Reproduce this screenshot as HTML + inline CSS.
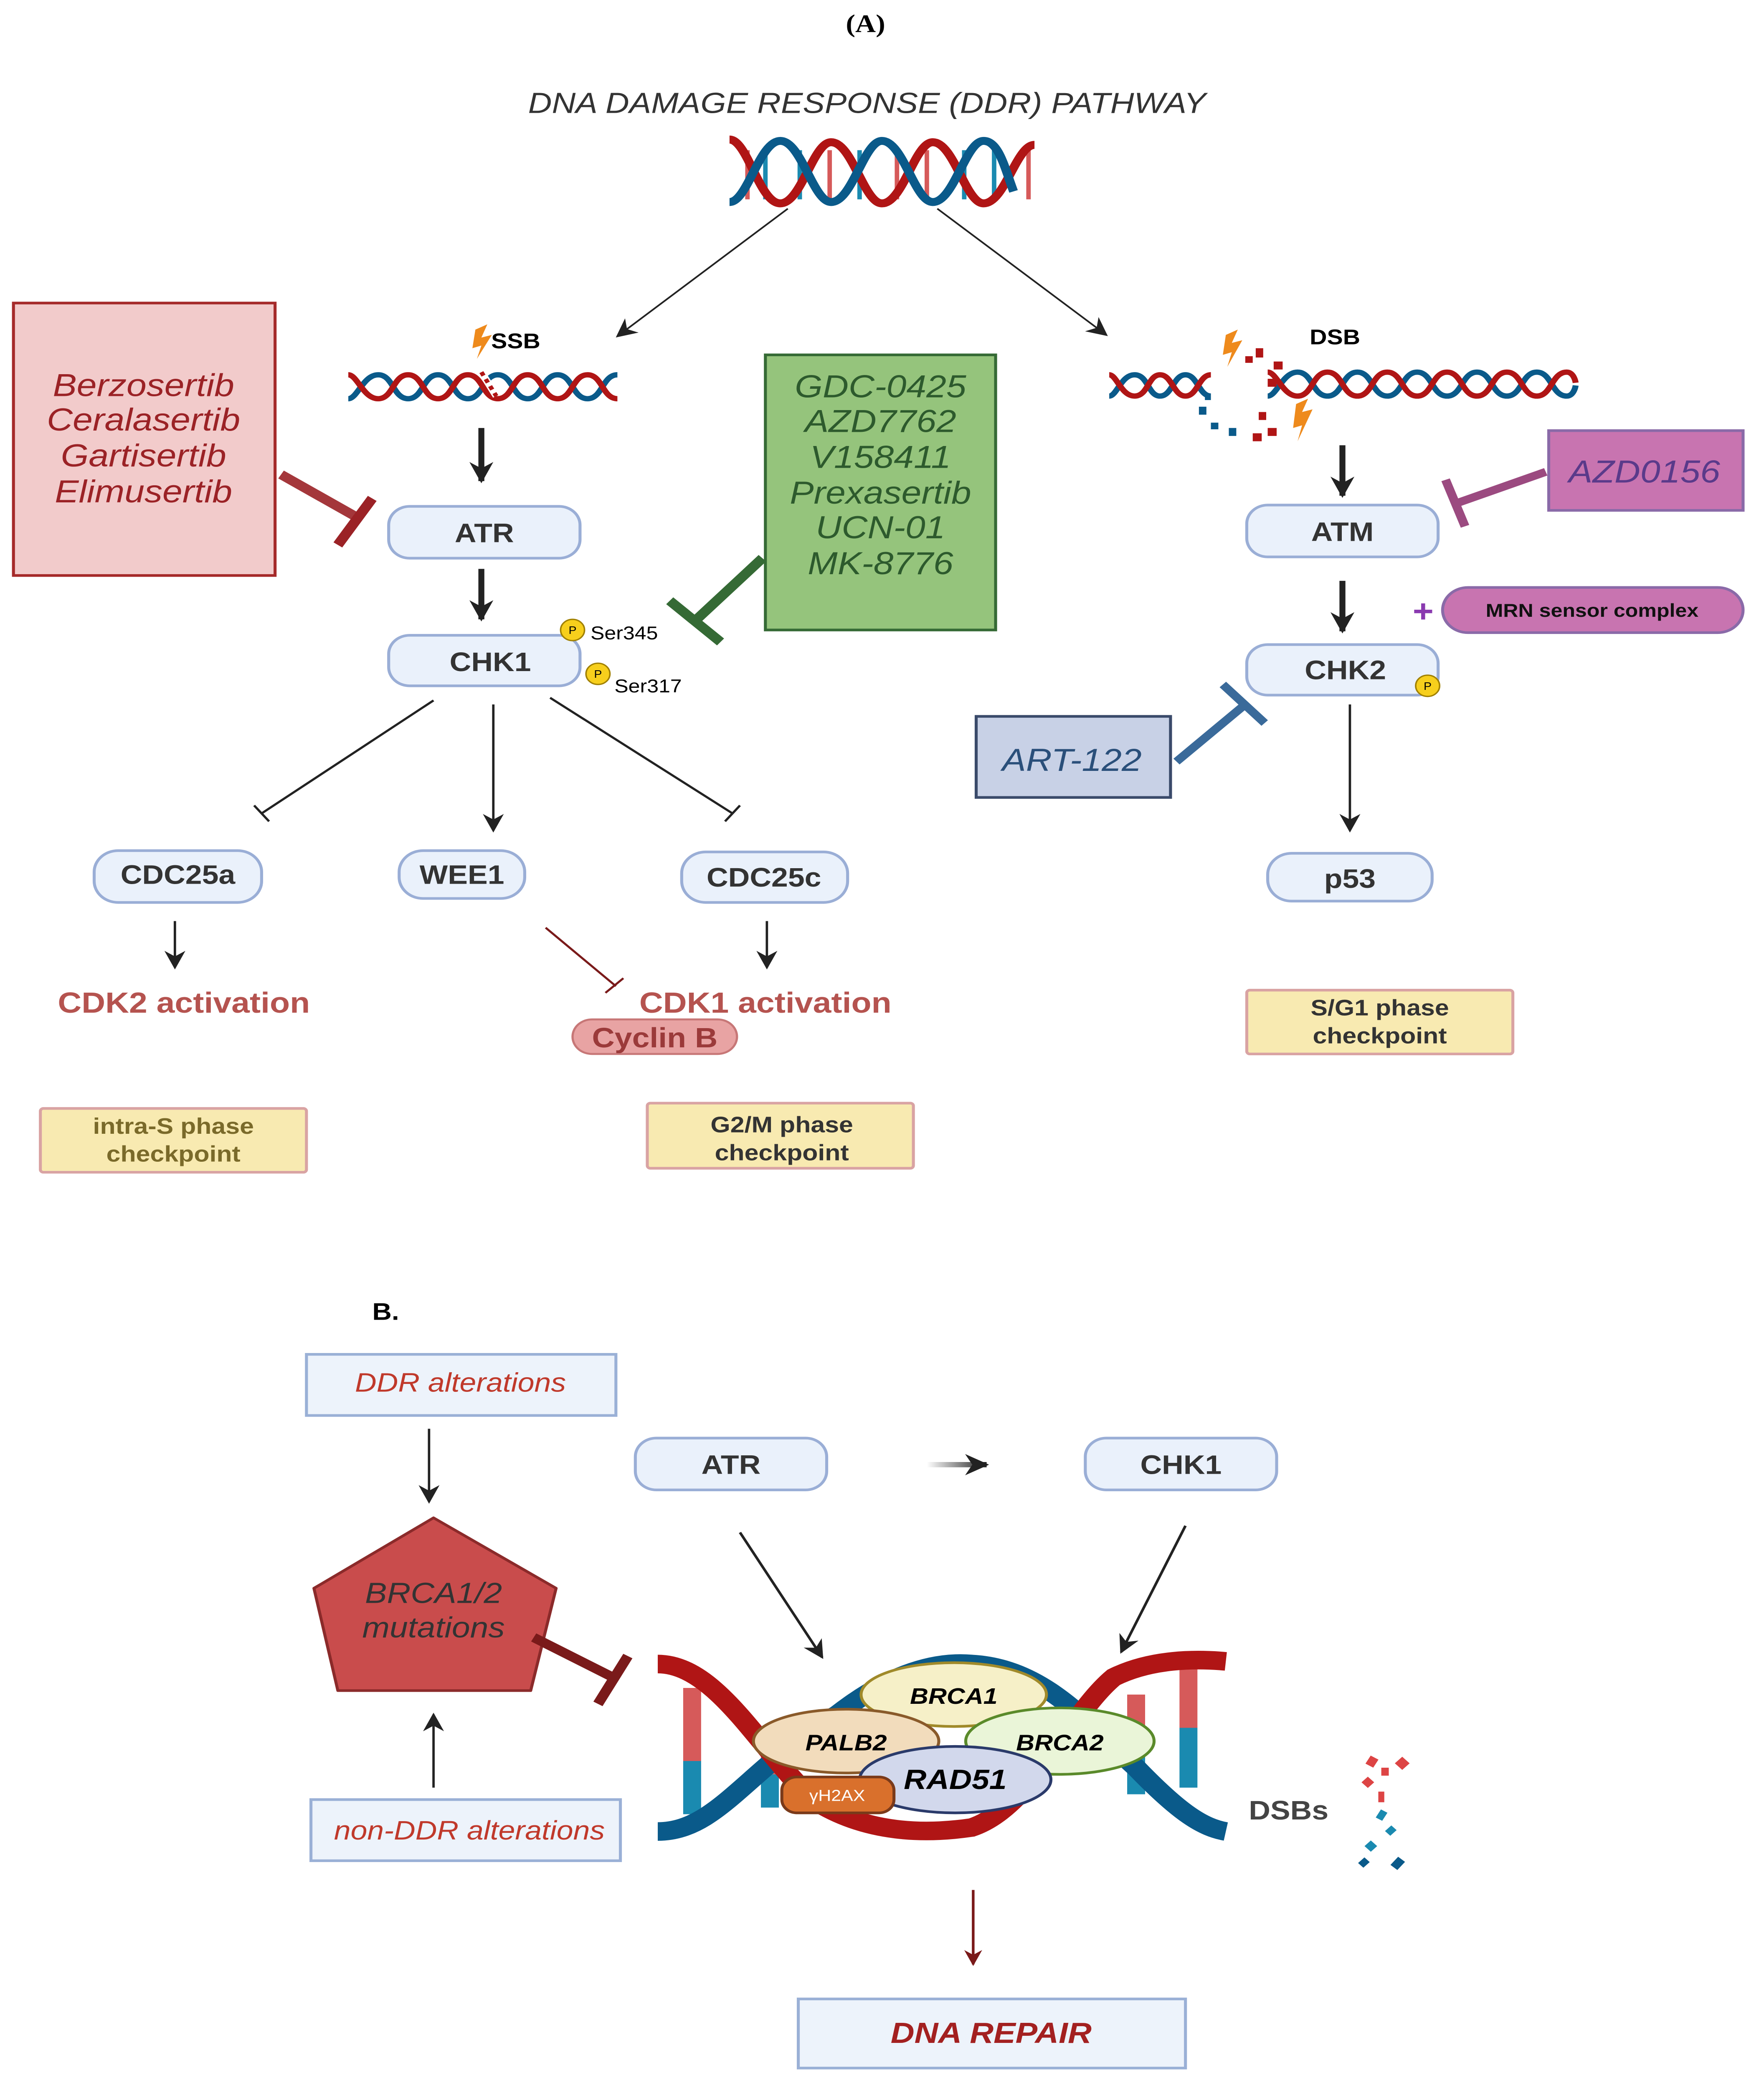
<!DOCTYPE html>
<html><head><meta charset="utf-8"><style>
html,body{margin:0;padding:0;background:#fff;overflow:hidden;width:100vw;height:100vh}
svg{display:block;width:100vw;height:100vh}
text{font-family:"Liberation Sans",sans-serif}
</style></head><body>
<svg viewBox="0 0 1180 1571" preserveAspectRatio="none" xmlns="http://www.w3.org/2000/svg">
<defs>
<marker id="ahs" viewBox="0 0 10 10" refX="9" refY="5" markerWidth="14" markerHeight="14" orient="auto" markerUnits="userSpaceOnUse"><path d="M0,0 L10,5 L0,10 L3,5z" fill="#222"/></marker>
<marker id="ahr" viewBox="0 0 10 10" refX="9" refY="5" markerWidth="12" markerHeight="12" orient="auto" markerUnits="userSpaceOnUse"><path d="M0,0 L10,5 L0,10 L3,5z" fill="#7a1a1a"/></marker>
<marker id="ahb" viewBox="0 0 10 10" refX="9" refY="5" markerWidth="4" markerHeight="4" orient="auto"><path d="M0,0 L10,5 L0,10 L3,5z" fill="#222"/></marker>
<linearGradient id="gh" gradientUnits="userSpaceOnUse" x1="620" y1="0" x2="660" y2="0"><stop offset="0" stop-color="#fff"/><stop offset="1" stop-color="#222"/></linearGradient>
</defs>

<text x="579" y="24" font-weight="bold" font-size="19" text-anchor="middle" style="font-family:'Liberation Serif',serif">(A)</text>
<text x="580" y="85" font-size="22" font-style="italic" fill="#333" text-anchor="middle">DNA DAMAGE RESPONSE (DDR) PATHWAY</text>

<!-- top DNA -->
<g stroke-width="3">
<line x1="500" y1="113" x2="500" y2="150" stroke="#d65a5a"/><line x1="512" y1="113" x2="512" y2="150" stroke="#1a8ab0"/>
<line x1="535" y1="113" x2="535" y2="150" stroke="#1a8ab0"/><line x1="555" y1="113" x2="555" y2="150" stroke="#d65a5a"/>
<line x1="575" y1="113" x2="575" y2="150" stroke="#1a8ab0"/><line x1="600" y1="113" x2="600" y2="150" stroke="#d65a5a"/>
<line x1="620" y1="113" x2="620" y2="150" stroke="#d65a5a"/><line x1="645" y1="113" x2="645" y2="150" stroke="#1a8ab0"/>
<line x1="665" y1="113" x2="665" y2="150" stroke="#1a8ab0"/><line x1="688" y1="113" x2="688" y2="150" stroke="#d65a5a"/>
</g>
<path d="M488,105 c12,0 20,48 34,48 c14,0 22,-46 34,-46 c14,0 22,46 34,46 c14,0 22,-46 34,-46 c14,0 22,46 34,46 c14,0 22,-44 34,-44" fill="none" stroke="#b01515" stroke-width="6"/>
<path d="M488,152 c12,0 20,-46 34,-46 c14,0 22,46 34,46 c14,0 22,-46 34,-46 c14,0 22,46 34,46 c14,0 22,-46 34,-46 c10,0 14,20 20,38" fill="none" stroke="#0a5a8a" stroke-width="6"/>

<line x1="527" y1="157" x2="413" y2="253" stroke="#222" stroke-width="1.2" marker-end="url(#ahs)"/>
<line x1="627" y1="157" x2="740" y2="252" stroke="#222" stroke-width="1.2" marker-end="url(#ahs)"/>

<!-- SSB helix -->
<path d="M233,300 c6,0 10,-18 20,-18 c10,0 10,18 20,18 c10,0 10,-18 20,-18 c10,0 10,18 20,18 c10,0 10,-18 20,-18 c10,0 10,18 20,18 c10,0 10,-18 20,-18 c10,0 10,18 20,18 c10,0 10,-18 20,-18" fill="none" stroke="#0a5a8a" stroke-width="4"/>
<path d="M233,282 c6,0 10,18 20,18 c10,0 10,-18 20,-18 c10,0 10,18 20,18 c10,0 10,-18 20,-18 c10,0 10,18 20,18 c10,0 10,-18 20,-18 c10,0 10,18 20,18 c10,0 10,-18 20,-18 c10,0 10,18 20,18" fill="none" stroke="#b01515" stroke-width="4"/>
<line x1="322" y1="280" x2="332" y2="298" stroke="#fff" stroke-width="5"/>
<line x1="322" y1="280" x2="332" y2="298" stroke="#b01515" stroke-width="3" stroke-dasharray="3,3"/>
<path d="M318,248 l8,-4 l-4,10 l7,-2 l-10,18 l3,-10 l-6,2z" fill="#ee8a1c"/>
<text x="345" y="262" font-size="16" font-weight="bold" text-anchor="middle">SSB</text>

<!-- Left pink box -->
<rect x="9" y="228" width="175" height="205" fill="#f2cbcb" stroke="#a52a2a" stroke-width="2"/>
<g font-size="24" font-style="italic" fill="#9b2226" text-anchor="middle">
<text x="96" y="298">Berzosertib</text><text x="96" y="324">Ceralasertib</text><text x="96" y="351">Gartisertib</text><text x="96" y="378">Elimusertib</text></g>
<line x1="188" y1="357" x2="240" y2="390" stroke="#9b2226" stroke-width="7" opacity="0.9"/>
<line x1="226" y1="410" x2="249" y2="375" stroke="#9b2226" stroke-width="7"/>

<!-- ATR / CHK1 -->
<line x1="322" y1="322" x2="322" y2="362" stroke="#222" stroke-width="4" marker-end="url(#ahb)"/>
<rect x="260" y="381" width="128" height="39" rx="14" fill="#eaf1fb" stroke="#9aaed6" stroke-width="2"/>
<text x="324" y="408" font-size="20" font-weight="bold" fill="#333" text-anchor="middle">ATR</text>
<line x1="322" y1="428" x2="322" y2="466" stroke="#222" stroke-width="4" marker-end="url(#ahb)"/>
<rect x="260" y="478" width="128" height="38" rx="14" fill="#eaf1fb" stroke="#9aaed6" stroke-width="2"/>
<text x="328" y="505" font-size="20" font-weight="bold" fill="#333" text-anchor="middle">CHK1</text>
<circle cx="383" cy="474" r="8" fill="#f7cf1c" stroke="#a08000"/><text x="383" y="477" font-size="8" text-anchor="middle">P</text>
<text x="395" y="481" font-size="14">Ser345</text>
<circle cx="400" cy="507" r="8" fill="#f7cf1c" stroke="#a08000"/><text x="400" y="510" font-size="8" text-anchor="middle">P</text>
<text x="411" y="521" font-size="14">Ser317</text>

<!-- Green box -->
<rect x="512" y="267" width="154" height="207" fill="#95c47c" stroke="#356a35" stroke-width="2"/>
<g font-size="24" font-style="italic" fill="#2d5a2d" text-anchor="middle">
<text x="589" y="299">GDC-0425</text><text x="589" y="325">AZD7762</text><text x="589" y="352">V158411</text><text x="589" y="379">Prexasertib</text><text x="589" y="405">UCN-01</text><text x="589" y="432">MK-8776</text></g>
<line x1="510" y1="420" x2="466" y2="466" stroke="#356a35" stroke-width="7"/>
<line x1="448" y1="452" x2="482" y2="483" stroke="#356a35" stroke-width="7"/>

<!-- CHK1 outputs -->
<line x1="290" y1="527" x2="175" y2="612" stroke="#222" stroke-width="1.6"/>
<line x1="170" y1="606" x2="180" y2="618" stroke="#222" stroke-width="1.6"/>
<line x1="330" y1="530" x2="330" y2="625" stroke="#222" stroke-width="1.6" marker-end="url(#ahs)"/>
<line x1="368" y1="525" x2="490" y2="612" stroke="#222" stroke-width="1.6"/>
<line x1="485" y1="618" x2="495" y2="606" stroke="#222" stroke-width="1.6"/>

<rect x="63" y="640" width="112" height="39" rx="16" fill="#eaf1fb" stroke="#9aaed6" stroke-width="2"/>
<text x="119" y="665" font-size="20" font-weight="bold" fill="#333" text-anchor="middle">CDC25a</text>
<rect x="267" y="640" width="84" height="36" rx="16" fill="#eaf1fb" stroke="#9aaed6" stroke-width="2"/>
<text x="309" y="665" font-size="20" font-weight="bold" fill="#333" text-anchor="middle">WEE1</text>
<rect x="456" y="641" width="111" height="38" rx="16" fill="#eaf1fb" stroke="#9aaed6" stroke-width="2"/>
<text x="511" y="667" font-size="20" font-weight="bold" fill="#333" text-anchor="middle">CDC25c</text>

<line x1="117" y1="693" x2="117" y2="728" stroke="#222" stroke-width="1.6" marker-end="url(#ahs)"/>
<line x1="513" y1="693" x2="513" y2="728" stroke="#222" stroke-width="1.6" marker-end="url(#ahs)"/>
<text x="123" y="762" font-size="22" font-weight="bold" fill="#b5534f" text-anchor="middle">CDK2 activation</text>
<text x="512" y="762" font-size="22" font-weight="bold" fill="#b5534f" text-anchor="middle">CDK1 activation</text>
<line x1="365" y1="698" x2="412" y2="742" stroke="#7a1a1a" stroke-width="1.5"/>
<line x1="405" y1="747" x2="417" y2="736" stroke="#7a1a1a" stroke-width="1.5"/>
<rect x="383" y="767" width="110" height="26" rx="13" fill="#e8a3a3" stroke="#c77777" stroke-width="1.5"/>
<text x="438" y="788" font-size="21" font-weight="bold" fill="#9b3a3a" text-anchor="middle">Cyclin B</text>

<rect x="27" y="834" width="178" height="48" fill="#f8eab1" stroke="#d9a3a3" stroke-width="2" rx="2"/>
<text x="116" y="853" font-size="17" font-weight="bold" fill="#7a6a2a" text-anchor="middle">intra-S phase</text>
<text x="116" y="874" font-size="17" font-weight="bold" fill="#7a6a2a" text-anchor="middle">checkpoint</text>
<rect x="433" y="830" width="178" height="49" fill="#f8eab1" stroke="#d9a3a3" stroke-width="2" rx="2"/>
<text x="523" y="852" font-size="17" font-weight="bold" fill="#333" text-anchor="middle">G2/M phase</text>
<text x="523" y="873" font-size="17" font-weight="bold" fill="#333" text-anchor="middle">checkpoint</text>
<rect x="834" y="745" width="178" height="48" fill="#f8eab1" stroke="#d9a3a3" stroke-width="2" rx="2"/>
<text x="923" y="764" font-size="17" font-weight="bold" fill="#333" text-anchor="middle">S/G1 phase</text>
<text x="923" y="785" font-size="17" font-weight="bold" fill="#333" text-anchor="middle">checkpoint</text>

<!-- DSB -->
<path d="M742,298 c5,0 8,-16 17,-16 c9,0 9,16 17,16 c8,0 9,-16 17,-16 c8,0 9,16 17,16" fill="none" stroke="#0a5a8a" stroke-width="4"/>
<path d="M742,282 c5,0 8,16 17,16 c9,0 9,-16 17,-16 c8,0 9,16 17,16 c8,0 9,-16 17,-16" fill="none" stroke="#b01515" stroke-width="4"/>
<path d="M848,298 c6,0 10,-18 20,-18 c10,0 10,18 20,18 c10,0 10,-18 20,-18 c10,0 10,18 20,18 c10,0 10,-18 20,-18 c10,0 10,18 20,18 c10,0 10,-18 20,-18 c10,0 10,18 20,18 c10,0 10,-18 20,-18 c10,0 10,18 20,18 c5,0 6,-8 6,-8" fill="none" stroke="#0a5a8a" stroke-width="4"/>
<path d="M848,280 c6,0 10,18 20,18 c10,0 10,-18 20,-18 c10,0 10,18 20,18 c10,0 10,-18 20,-18 c10,0 10,18 20,18 c10,0 10,-18 20,-18 c10,0 10,18 20,18 c10,0 10,-18 20,-18 c10,0 10,18 20,18 c10,0 10,-18 20,-18 c5,0 6,8 6,8" fill="none" stroke="#b01515" stroke-width="4"/>
<g fill="#b01515"><rect x="840" y="262" width="5" height="7"/><rect x="852" y="272" width="6" height="6"/><rect x="848" y="285" width="6" height="6"/><rect x="842" y="310" width="5" height="6"/><rect x="848" y="322" width="6" height="6"/><rect x="838" y="326" width="6" height="6"/><rect x="833" y="268" width="5" height="5"/></g>
<g fill="#0a5a8a"><rect x="802" y="306" width="5" height="6"/><rect x="810" y="318" width="5" height="5"/><rect x="822" y="322" width="5" height="6"/><rect x="806" y="296" width="4" height="5"/></g>
<path d="M820,252 l8,-4 l-4,10 l7,-2 l-10,20 l3,-11 l-6,2z" fill="#ee8a1c"/>
<path d="M867,304 l8,-4 l-4,10 l7,-2 l-10,24 l3,-12 l-6,2z" fill="#ee8a1c"/>
<text x="893" y="259" font-size="16" font-weight="bold" text-anchor="middle">DSB</text>

<line x1="898" y1="335" x2="898" y2="373" stroke="#222" stroke-width="4" marker-end="url(#ahb)"/>
<rect x="834" y="380" width="128" height="39" rx="14" fill="#eaf1fb" stroke="#9aaed6" stroke-width="2"/>
<text x="898" y="407" font-size="20" font-weight="bold" fill="#333" text-anchor="middle">ATM</text>
<rect x="1036" y="324" width="130" height="60" fill="#c874b0" stroke="#8a6aa8" stroke-width="2"/>
<text x="1100" y="363" font-size="24" font-style="italic" fill="#5a3a8a" text-anchor="middle">AZD0156</text>
<line x1="1034" y1="355" x2="976" y2="378" stroke="#9b4a80" stroke-width="6"/>
<line x1="967" y1="361" x2="980" y2="396" stroke="#9b4a80" stroke-width="6"/>

<line x1="898" y1="437" x2="898" y2="475" stroke="#222" stroke-width="4" marker-end="url(#ahb)"/>
<text x="952" y="468" font-size="24" font-weight="bold" fill="#8a3ab0" text-anchor="middle">+</text>
<rect x="965" y="442" width="201" height="34" rx="17" fill="#c874b0" stroke="#8a6aa8" stroke-width="2"/>
<text x="1065" y="464" font-size="14" font-weight="bold" fill="#111" text-anchor="middle">MRN sensor complex</text>
<rect x="834" y="485" width="128" height="38" rx="14" fill="#eaf1fb" stroke="#9aaed6" stroke-width="2"/>
<text x="900" y="511" font-size="20" font-weight="bold" fill="#333" text-anchor="middle">CHK2</text>
<circle cx="955" cy="516" r="8" fill="#f7cf1c" stroke="#a08000"/><text x="955" y="519" font-size="8" text-anchor="middle">P</text>

<rect x="653" y="539" width="130" height="61" fill="#c8d1e6" stroke="#3a4a6a" stroke-width="2"/>
<text x="717" y="580" font-size="24" font-style="italic" fill="#2a4f7a" text-anchor="middle">ART-122</text>
<line x1="787" y1="573" x2="833" y2="530" stroke="#3a6a9a" stroke-width="6"/>
<line x1="818" y1="515" x2="846" y2="544" stroke="#3a6a9a" stroke-width="6"/>

<line x1="903" y1="530" x2="903" y2="625" stroke="#222" stroke-width="1.6" marker-end="url(#ahs)"/>
<rect x="848" y="642" width="110" height="36" rx="16" fill="#eaf1fb" stroke="#9aaed6" stroke-width="2"/>
<text x="903" y="668" font-size="20" font-weight="bold" fill="#333" text-anchor="middle">p53</text>

<!-- Part B -->
<text x="249" y="993" font-size="18" font-weight="bold">B.</text>
<rect x="205" y="1019" width="207" height="46" fill="#edf3fb" stroke="#9ab0d6" stroke-width="2"/>
<text x="308" y="1047" font-size="20" font-style="italic" fill="#c0392b" text-anchor="middle">DDR alterations</text>
<line x1="287" y1="1075" x2="287" y2="1130" stroke="#222" stroke-width="1.6" marker-end="url(#ahs)"/>
<polygon points="290,1142 372,1195 355,1272 226,1272 210,1195" fill="#c94c4c" stroke="#8b2a2a" stroke-width="2" stroke-linejoin="round"/>
<text x="290" y="1206" font-size="22" font-style="italic" fill="#333" text-anchor="middle">BRCA1/2</text>
<text x="290" y="1232" font-size="22" font-style="italic" fill="#333" text-anchor="middle">mutations</text>
<line x1="357" y1="1232" x2="410" y2="1262" stroke="#7a1a1a" stroke-width="7"/>
<line x1="400" y1="1282" x2="420" y2="1246" stroke="#7a1a1a" stroke-width="7"/>
<line x1="290" y1="1345" x2="290" y2="1290" stroke="#222" stroke-width="1.6" marker-end="url(#ahs)"/>
<rect x="208" y="1354" width="207" height="46" fill="#edf3fb" stroke="#9ab0d6" stroke-width="2"/>
<text x="314" y="1384" font-size="20" font-style="italic" fill="#c0392b" text-anchor="middle">non-DDR alterations</text>

<rect x="425" y="1082" width="128" height="39" rx="14" fill="#eaf1fb" stroke="#9aaed6" stroke-width="2"/>
<text x="489" y="1109" font-size="20" font-weight="bold" fill="#333" text-anchor="middle">ATR</text>
<rect x="726" y="1082" width="128" height="39" rx="14" fill="#eaf1fb" stroke="#9aaed6" stroke-width="2"/>
<text x="790" y="1109" font-size="20" font-weight="bold" fill="#333" text-anchor="middle">CHK1</text>
<line x1="620" y1="1102" x2="660" y2="1102" stroke="url(#gh)" stroke-width="4" marker-end="url(#ahb)"/>
<line x1="495" y1="1153" x2="550" y2="1247" stroke="#222" stroke-width="1.8" marker-end="url(#ahs)"/>
<line x1="793" y1="1148" x2="750" y2="1243" stroke="#222" stroke-width="1.8" marker-end="url(#ahs)"/>

<!-- big DNA -->
<g stroke-width="12">
<line x1="463" y1="1270" x2="463" y2="1325" stroke="#d65a5a"/><line x1="463" y1="1325" x2="463" y2="1365" stroke="#1a8ab0"/>
<line x1="515" y1="1300" x2="515" y2="1335" stroke="#d65a5a"/><line x1="515" y1="1335" x2="515" y2="1360" stroke="#1a8ab0"/>
<line x1="760" y1="1275" x2="760" y2="1310" stroke="#d65a5a"/><line x1="760" y1="1310" x2="760" y2="1350" stroke="#1a8ab0"/>
<line x1="795" y1="1255" x2="795" y2="1300" stroke="#d65a5a"/><line x1="795" y1="1300" x2="795" y2="1345" stroke="#1a8ab0"/>
</g>
<path d="M440,1378 C480,1378 500,1330 560,1290 C600,1255 630,1250 650,1252 C700,1255 730,1300 760,1330 C790,1365 805,1375 820,1378" fill="none" stroke="#0a5a8a" stroke-width="14"/>
<path d="M440,1252 C480,1252 510,1320 545,1355 C580,1380 620,1380 650,1375 C690,1360 715,1290 745,1262 C770,1248 800,1248 820,1250" fill="none" stroke="#b01515" stroke-width="14"/>

<ellipse cx="638" cy="1275" rx="62" ry="24" fill="#f6f0c8" stroke="#a08a2a" stroke-width="2"/>
<text x="638" y="1282" font-size="17" font-weight="bold" font-style="italic" text-anchor="middle">BRCA1</text>
<ellipse cx="709" cy="1310" rx="63" ry="25" fill="#eaf5d8" stroke="#5a8a2a" stroke-width="2"/>
<text x="709" y="1317" font-size="17" font-weight="bold" font-style="italic" text-anchor="middle">BRCA2</text>
<ellipse cx="566" cy="1310" rx="62" ry="24" fill="#f2dcbc" stroke="#8a5a2a" stroke-width="2"/>
<text x="566" y="1317" font-size="17" font-weight="bold" font-style="italic" text-anchor="middle">PALB2</text>
<ellipse cx="639" cy="1339" rx="64" ry="25" fill="#d2d8ec" stroke="#2a3a6a" stroke-width="2"/>
<text x="639" y="1346" font-size="21" font-weight="bold" font-style="italic" text-anchor="middle">RAD51</text>
<rect x="523" y="1337" width="75" height="27" rx="10" fill="#d9702c" stroke="#7a3a1a" stroke-width="2"/>
<text x="560" y="1355" font-size="12" fill="#fff" text-anchor="middle">γH2AX</text>

<text x="862" y="1369" font-size="20" font-weight="bold" fill="#444" text-anchor="middle">DSBs</text>
<g fill="#d44"><rect x="915" y="1322" width="6" height="7" transform="rotate(30 918 1325)"/><rect x="935" y="1323" width="7" height="7" transform="rotate(45 938 1326)"/><rect x="924" y="1330" width="5" height="6"/><rect x="912" y="1338" width="6" height="6" transform="rotate(45 915 1341)"/><rect x="922" y="1348" width="4" height="8"/></g>
<g fill="#1a8ab0"><rect x="922" y="1362" width="5" height="7" transform="rotate(30 924 1365)"/><rect x="928" y="1374" width="5" height="6" transform="rotate(45 930 1377)"/><rect x="914" y="1386" width="6" height="6" transform="rotate(45 917 1389)"/></g>
<g fill="#0a5a8a"><rect x="932" y="1398" width="6" height="8" transform="rotate(40 935 1402)"/><rect x="910" y="1398" width="5" height="6" transform="rotate(45 912 1401)"/></g>

<line x1="651" y1="1422" x2="651" y2="1478" stroke="#7a1a1a" stroke-width="1.8" marker-end="url(#ahr)"/>
<rect x="534" y="1504" width="259" height="52" fill="#edf3fb" stroke="#9ab0d6" stroke-width="2"/>
<text x="663" y="1537" font-size="22" font-weight="bold" font-style="italic" fill="#a32020" text-anchor="middle">DNA REPAIR</text>
</svg>
</body></html>
